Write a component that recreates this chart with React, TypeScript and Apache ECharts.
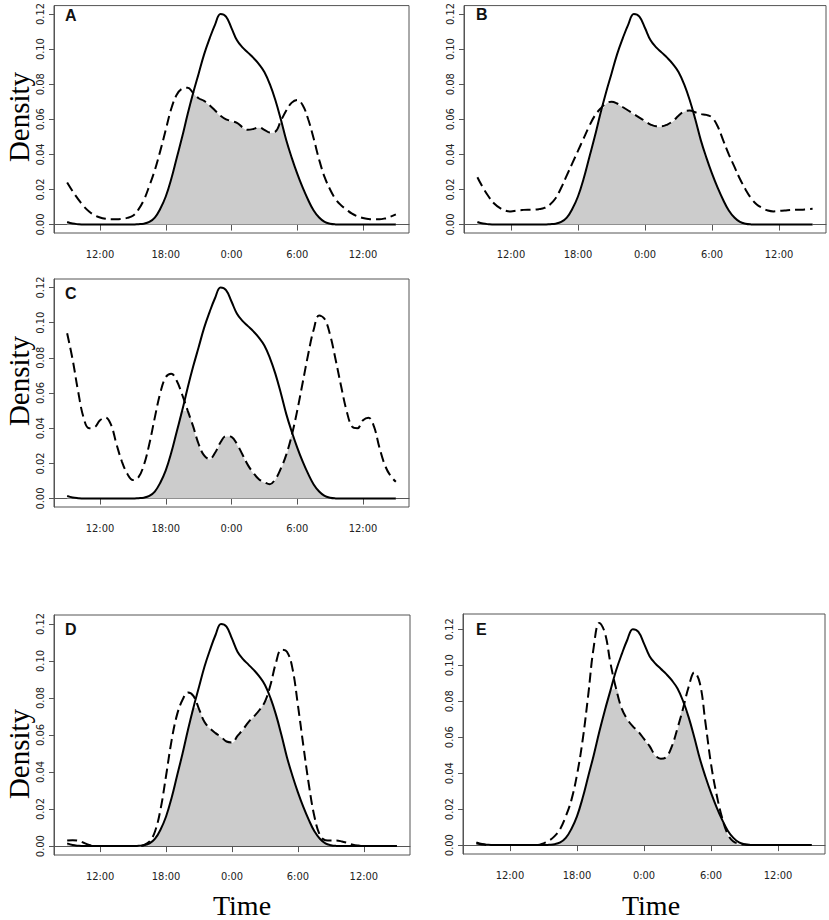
import React, { useEffect, useRef } from "react";
import * as echarts from "echarts";

// sampling grid: hours from 9:00 (day 1) to 15:00 (day 2), every half hour
const HOURS: number[] = Array.from({ length: 61 }, (_, i) => 9 + i * 0.5);

const X_TICKS = [12, 18, 24, 30, 36];
const X_TICK_LABELS = ["12:00", "18:00", "0:00", "6:00", "12:00"];
const Y_TICKS = [0, 0.02, 0.04, 0.06, 0.08, 0.1, 0.12];

// solid curve (same in every panel)
const SOLID = [
  0.0015, 0.0006, 0.0002, 0, 0, 0, 0, 0, 0, 0,
  0, 0, 0, 0.0002, 0.0005, 0.0015, 0.004, 0.009, 0.016, 0.026,
  0.038, 0.05, 0.063, 0.075, 0.086, 0.097, 0.106, 0.114, 0.12, 0.1185,
  0.112, 0.105, 0.101, 0.098, 0.095, 0.0915, 0.087, 0.08, 0.071, 0.06,
  0.048, 0.038, 0.029, 0.021, 0.014, 0.008, 0.004, 0.0015, 0.0005, 0.0001,
  0, 0, 0, 0, 0, 0, 0, 0, 0, 0,
  0,
];

const DASH_A = [
  0.024, 0.019, 0.0145, 0.0105, 0.0075, 0.0053, 0.004, 0.0033, 0.003, 0.003,
  0.0032, 0.0038, 0.005, 0.0085, 0.014, 0.022, 0.031, 0.042, 0.054, 0.066,
  0.074, 0.0775, 0.078, 0.075, 0.072, 0.0705, 0.068, 0.065, 0.062, 0.06,
  0.059, 0.058, 0.0555, 0.054, 0.0545, 0.0555, 0.054, 0.0525, 0.053, 0.059,
  0.065, 0.0695, 0.071, 0.068, 0.06, 0.049, 0.037, 0.027, 0.02, 0.0145,
  0.011, 0.0085, 0.0062, 0.0047, 0.0037, 0.0032, 0.003, 0.003, 0.0035, 0.0045,
  0.0058,
];

const DASH_B = [
  0.027, 0.021, 0.016, 0.012, 0.0095, 0.008, 0.0075, 0.008, 0.0083, 0.0085,
  0.0085, 0.0088, 0.0095, 0.0115, 0.015, 0.021, 0.028, 0.035, 0.042, 0.049,
  0.056, 0.062, 0.066, 0.069, 0.07, 0.069, 0.067, 0.065, 0.063, 0.061,
  0.059, 0.057, 0.056, 0.056, 0.057, 0.059, 0.062, 0.0645, 0.065, 0.064,
  0.063, 0.0625, 0.061, 0.056, 0.048, 0.04, 0.033, 0.026, 0.02, 0.015,
  0.0115, 0.0095, 0.008, 0.0075, 0.0078, 0.008, 0.0083, 0.0085, 0.0085, 0.0088,
  0.009,
];

const DASH_C = [
  0.094, 0.079, 0.061, 0.046, 0.04, 0.0405, 0.0445, 0.046, 0.042, 0.031,
  0.021, 0.014, 0.0105, 0.012, 0.019, 0.031, 0.046, 0.06, 0.069, 0.071,
  0.067, 0.059, 0.05, 0.041, 0.031, 0.0245, 0.0225, 0.026, 0.032, 0.0355,
  0.035, 0.031, 0.025, 0.019, 0.0145, 0.011, 0.0093, 0.0082, 0.011, 0.017,
  0.025, 0.036, 0.05, 0.066, 0.082, 0.096, 0.104, 0.102, 0.093, 0.079,
  0.064, 0.05, 0.041, 0.04, 0.0445, 0.046, 0.041, 0.029, 0.019, 0.013,
  0.0095,
];

const DASH_D = [
  0.003, 0.0032, 0.003, 0.0018, 0.0006, 0.0001, 0, 0, 0, 0,
  0, 0, 0, 0, 0.0006, 0.0025, 0.008, 0.02, 0.038, 0.057,
  0.071, 0.079, 0.083, 0.081, 0.074, 0.067, 0.0635, 0.061, 0.059, 0.0565,
  0.056, 0.0595, 0.063, 0.067, 0.07, 0.0735, 0.078, 0.087, 0.099, 0.106,
  0.105, 0.096, 0.076, 0.054, 0.033, 0.016, 0.006, 0.0032, 0.003, 0.003,
  0.0025, 0.0017, 0.0008, 0.0003, 0, 0, 0, 0, 0, 0,
  0,
];

const DASH_E = [
  0.001, 0.0003, 0, 0, 0, 0, 0, 0, 0, 0,
  0, 0, 0.001, 0.0025, 0.005, 0.009, 0.016, 0.025, 0.039, 0.058,
  0.083, 0.11, 0.1235, 0.118, 0.101, 0.087, 0.076, 0.07, 0.066, 0.063,
  0.059, 0.055, 0.05, 0.048, 0.049, 0.055, 0.065, 0.076, 0.088, 0.096,
  0.09, 0.068, 0.045, 0.028, 0.015, 0.006, 0.002, 0.0008, 0.0003, 0,
  0, 0, 0, 0, 0, 0, 0, 0, 0, 0,
  0,
];

const PANEL_LETTERS = ["A", "B", "C", "D", "E"];
const PANEL_DASHED = [DASH_A, DASH_B, DASH_C, DASH_D, DASH_E];

// layout (pixels)
const PANEL_BOXES = [
  { left: 54, top: 3, width: 355, height: 230 },
  { left: 464, top: 4, width: 362, height: 229 },
  { left: 54, top: 279, width: 355, height: 228 },
  { left: 54, top: 615, width: 356, height: 240 },
  { left: 463, top: 614, width: 362, height: 240 },
];
const LETTER_POS = [
  [65, 15],
  [476, 14],
  [65, 293],
  [65, 629],
  [476, 629],
];
const DENSITY_POS = [
  [19, 117],
  [19, 381],
  [19, 754],
];
const TIME_POS = [
  [242, 905],
  [651, 905],
];

const TICK_FONT = "'Liberation Sans Narrow', 'Arial Narrow', 'DejaVu Sans Condensed', 'Liberation Sans', Arial, sans-serif";
const AXIS_COLOR = "#555";

export default function App() {
  const ref = useRef<HTMLDivElement>(null);

  useEffect(() => {
    if (!ref.current) return;
    const chart = echarts.init(ref.current, null, { renderer: "svg" });

    const grids: any[] = [];
    const xAxes: any[] = [];
    const yAxes: any[] = [];
    const series: any[] = [];

    PANEL_DASHED.forEach((dashed, i) => {
      const box = PANEL_BOXES[i];
      grids.push({
        ...box,
        show: true,
        borderColor: AXIS_COLOR,
        borderWidth: 1,
        backgroundColor: "transparent",
        containLabel: false,
      });
      const xMin = HOURS[0];
      const xMax = HOURS[HOURS.length - 1];
      const xPad = (xMax - xMin) * 0.04;
      xAxes.push({
        type: "value",
        gridIndex: i,
        min: xMin - xPad,
        max: xMax + xPad,
        axisLine: { show: true, lineStyle: { color: AXIS_COLOR, width: 1 } },
        axisTick: { show: true, length: 6, lineStyle: { color: AXIS_COLOR }, customValues: X_TICKS },
        axisLabel: {
          customValues: X_TICKS,
          formatter: (v: number) => X_TICK_LABELS[X_TICKS.indexOf(v)] ?? "",
          fontFamily: TICK_FONT,
          fontSize: 11,
          color: "#222",
          margin: 16,
        },
        splitLine: { show: false },
      });
      const yTop = Math.max(...SOLID, ...dashed);
      const yPad = yTop * 0.04;
      yAxes.push({
        type: "value",
        gridIndex: i,
        min: -yPad,
        max: yTop + yPad,
        axisLine: { show: true, lineStyle: { color: AXIS_COLOR, width: 1 } },
        axisTick: { show: true, length: 5, lineStyle: { color: AXIS_COLOR }, customValues: Y_TICKS },
        axisLabel: {
          customValues: Y_TICKS,
          rotate: 90,
          formatter: (v: number) => v.toFixed(2),
          fontFamily: TICK_FONT,
          fontSize: 11,
          color: "#222",
          margin: 8,
        },
        splitLine: { show: false },
      });
      series.push({
        type: "line",
        xAxisIndex: i,
        yAxisIndex: i,
        data: HOURS.map((h, j) => [h, Math.min(SOLID[j], dashed[j])]),
        smooth: 0.4,
        symbol: "none",
        silent: true,
        lineStyle: { color: "#ffffff", width: 1 },
        areaStyle: { color: "#cccccc", opacity: 1 },
        z: 1,
      });
      series.push({
        type: "line",
        xAxisIndex: i,
        yAxisIndex: i,
        data: HOURS.map((h, j) => [h, dashed[j]]),
        smooth: 0.4,
        symbol: "none",
        silent: true,
        lineStyle: { color: "#000", width: 2, type: [10, 5] },
        z: 2,
      });
      series.push({
        type: "line",
        xAxisIndex: i,
        yAxisIndex: i,
        data: HOURS.map((h, j) => [h, SOLID[j]]),
        smooth: 0.4,
        symbol: "none",
        silent: true,
        lineStyle: { color: "#000", width: 2 },
        z: 3,
      });
    });

    const graphics: any[] = [];
    PANEL_LETTERS.forEach((t, i) => {
      graphics.push({
        type: "text",
        x: LETTER_POS[i][0],
        y: LETTER_POS[i][1],
        style: {
          text: t,
          font: "bold 16px 'Liberation Sans', Arial, sans-serif",
          fill: "#111",
          textAlign: "left",
          align: "left",
          textVerticalAlign: "middle",
          verticalAlign: "middle",
        },
      });
    });
    DENSITY_POS.forEach(([x, y]) => {
      graphics.push({
        type: "text",
        x,
        y,
        rotation: Math.PI / 2,
        style: {
          text: "Density",
          font: "29px 'Liberation Serif', 'Times New Roman', serif",
          fill: "#000",
          textAlign: "center",
          align: "center",
          textVerticalAlign: "middle",
          verticalAlign: "middle",
        },
      });
    });
    TIME_POS.forEach(([x, y]) => {
      graphics.push({
        type: "text",
        x,
        y,
        style: {
          text: "Time",
          font: "28px 'Liberation Serif', 'Times New Roman', serif",
          fill: "#000",
          textAlign: "center",
          align: "center",
          textVerticalAlign: "middle",
          verticalAlign: "middle",
        },
      });
    });

    chart.setOption({
      animation: false,
      backgroundColor: "#ffffff",
      grid: grids,
      xAxis: xAxes,
      yAxis: yAxes,
      series,
      graphic: graphics,
    });

    return () => chart.dispose();
  }, []);

  return (
    <div
      ref={ref}
      style={{ position: "absolute", left: 0, top: 0, width: 829, height: 920 }}
    />
  );
}
